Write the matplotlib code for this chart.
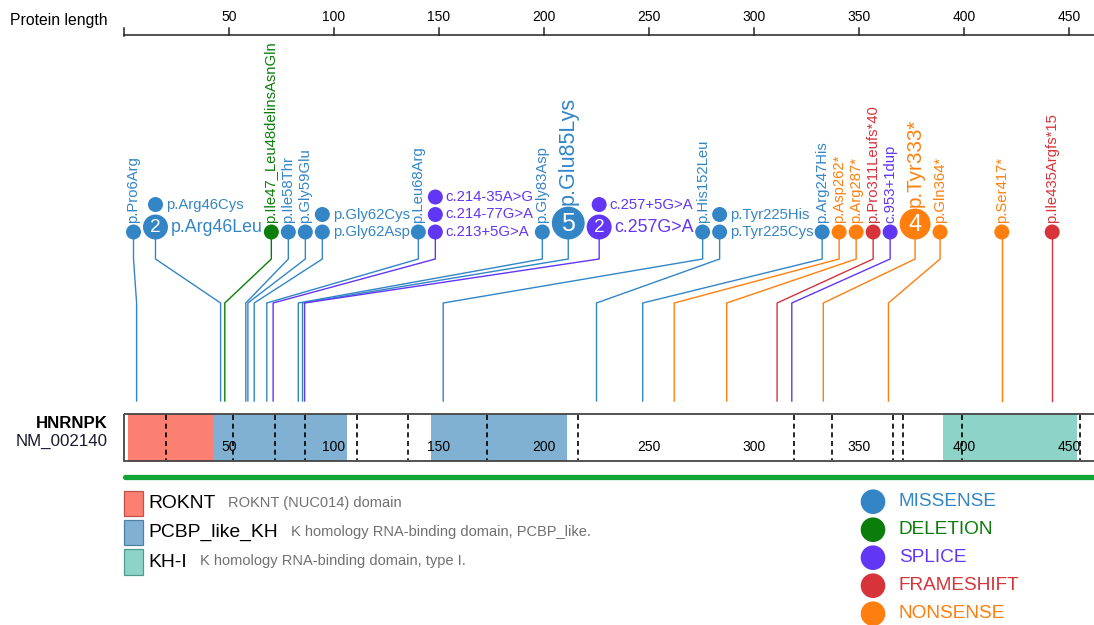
import numpy as np
import matplotlib
matplotlib.use('Agg')
import matplotlib.pyplot as plt
from matplotlib.patches import Rectangle
from matplotlib.font_manager import FontProperties

plt.rcParams['font.family'] = ['Liberation Sans', 'DejaVu Sans']

# ---- data -------------------------------------------------------------
gene = 'HNRNPK'
transcript = 'NM_002140'
protein_len = 463

# mutations, listed bottom-to-top inside a shared column
mut_labels = ['p.Pro6Arg', 'p.Arg46Leu', 'p.Arg46Cys', 'p.Ile47_Leu48delinsAsnGln',
              'p.Ile58Thr', 'p.Gly59Glu', 'p.Gly62Asp', 'p.Gly62Cys', 'p.Leu68Arg',
              'c.213+5G>A', 'c.214-77G>A', 'c.214-35A>G', 'p.Gly83Asp', 'p.Glu85Lys',
              'c.257G>A', 'c.257+5G>A', 'p.His152Leu', 'p.Tyr225Cys', 'p.Tyr225His',
              'p.Arg247His', 'p.Asp262*', 'p.Arg287*', 'p.Pro311Leufs*40', 'c.953+1dup',
              'p.Tyr333*', 'p.Gln364*', 'p.Ser417*', 'p.Ile435Argfs*15']
mut_pos = [6, 46, 46, 48, 58, 59, 62, 62, 68, 71, 71, 71, 83, 85, 86, 86, 152, 225, 225,
           247, 262, 287, 311, 318, 333, 364, 418, 442]
mut_type = ['MISSENSE', 'MISSENSE', 'MISSENSE', 'DELETION', 'MISSENSE', 'MISSENSE',
            'MISSENSE', 'MISSENSE', 'MISSENSE', 'SPLICE', 'SPLICE', 'SPLICE', 'MISSENSE',
            'MISSENSE', 'SPLICE', 'SPLICE', 'MISSENSE', 'MISSENSE', 'MISSENSE', 'MISSENSE',
            'NONSENSE', 'NONSENSE', 'FRAMESHIFT', 'SPLICE', 'NONSENSE', 'NONSENSE',
            'NONSENSE', 'FRAMESHIFT']
mut_count = [1, 2, 1, 1, 1, 1, 1, 1, 1, 1, 1, 1, 1, 5, 2, 1, 1, 1, 1, 1, 1, 1, 1, 1, 4, 1, 1, 1]

domain_names = ['ROKNT', 'PCBP_like_KH', 'PCBP_like_KH', 'KH-I']
domain_start = [2, 43, 146, 390]
domain_end = [43, 106, 211, 454]
legend_domains = ['ROKNT', 'PCBP_like_KH', 'KH-I']
legend_desc = ['ROKNT (NUC014) domain', 'K homology RNA-binding domain, PCBP_like.',
               'K homology RNA-binding domain, type I.']
exon_bounds = [20, 52, 72, 86, 111, 135, 173, 216, 319, 337, 366, 371, 399, 455]
ruler_ticks = [50, 100, 150, 200, 250, 300, 350, 400, 450]

type_order = ['MISSENSE', 'DELETION', 'SPLICE', 'FRAMESHIFT', 'NONSENSE']
type_colors = {'MISSENSE': '#3385c6', 'DELETION': '#0a7d0a', 'SPLICE': '#6236f5',
               'FRAMESHIFT': '#d6333a', 'NONSENSE': '#ff7f0e'}
domain_colors = {'ROKNT': '#fb8072', 'PCBP_like_KH': '#80b1d3', 'KH-I': '#8dd3c7'}
domain_edges = {'ROKNT': '#c0504a', 'PCBP_like_KH': '#4f7fa3', 'KH-I': '#4f9a8c'}

# ---- canvas (x in residues, y in pixels from top) ---------------------
W, H = 1094, 625
X0 = 124          # pixel where residue 0 sits
PPA = 2.1         # pixels per residue
fig = plt.figure(figsize=(W / 100, H / 100), dpi=100)
ax = fig.add_axes([0, 0, 1, 1])
ax.set_xlim(-X0 / PPA, (W - X0) / PPA)
ax.set_ylim(H, 0)
ax.axis('off')
renderer = fig.canvas.get_renderer()


def px2x(p):
    return (p - X0) / PPA


def fsize(n):
    return 10.7 + 3 * np.log(n)


def radius(n):
    return 7.5 if n == 1 else 9.5 + 4.3 * np.log(n)


def text_w(s, size, weight='normal'):
    fp = FontProperties(family='Liberation Sans', size=size, weight=weight)
    return renderer.get_text_width_height_descent(s, fp, ismath=False)[0]


# ---- group mutations into columns ------------------------------------
groups = []
for lab, pos, typ, n in zip(mut_labels, mut_pos, mut_type, mut_count):
    if groups and groups[-1]['pos'] == pos and groups[-1]['type'] == typ:
        groups[-1]['items'].append((lab, n))
    else:
        groups.append({'pos': pos, 'type': typ, 'items': [(lab, n)]})

GAP = 2
for g in groups:
    rs = [radius(n) for _, n in g['items']]
    g['a'] = max(rs)
    if len(g['items']) > 1:
        g['b'] = max(r + 2 + text_w(lab, fsize(n)) for r, (lab, n) in zip(rs, g['items']))
    else:
        g['b'] = rs[0]
    g['anchor'] = X0 + g['pos'] * PPA

# 1D overlap removal: merge overlapping clusters, centre on mean, clamp
L, R = X0 + 2, W - 2


def place(c):
    s = np.mean([groups[i]['anchor'] - groups[i]['a'] - o for i, o in zip(c['items'], c['offs'])])
    return min(max(s, L), R - c['width'])


clusters = []
for gi, g in enumerate(groups):
    c = {'items': [gi], 'offs': [0.0], 'width': g['a'] + g['b']}
    c['start'] = place(c)
    clusters.append(c)
    while len(clusters) > 1 and clusters[-2]['start'] + clusters[-2]['width'] + GAP > clusters[-1]['start']:
        c2 = clusters.pop()
        c1 = clusters.pop()
        shift = c1['width'] + GAP
        c = {'items': c1['items'] + c2['items'],
             'offs': c1['offs'] + [o + shift for o in c2['offs']],
             'width': shift + c2['width']}
        c['start'] = place(c)
        clusters.append(c)
for c in clusters:
    for i, o in zip(c['items'], c['offs']):
        groups[i]['cx'] = c['start'] + o + groups[i]['a']

# ---- lollipops -------------------------------------------------------
for g in groups:
    col = type_colors[g['type']]
    cx = px2x(g['cx'])
    ax.plot([cx, cx, g['pos'], g['pos']], [235, 259, 303, 401], color=col, lw=1.0, zorder=1)
    y = None
    prev_r = None
    stacked = len(g['items']) > 1
    for lab, n in g['items']:
        r = radius(n)
        y = 239.5 - r if y is None else y - prev_r - 2.5 - r
        prev_r = r
        ax.scatter([cx], [y], s=(2 * r * 0.72) ** 2, color=col, edgecolors='none', zorder=3)
        if n > 1:
            ax.text(cx, y + 0.5, str(n), color='white', fontsize=r * 1.1, ha='center',
                    va='center', zorder=4)
        if stacked:
            ax.text(px2x(g['cx'] + r + 3), y, lab, color=col, fontsize=fsize(n),
                    ha='left', va='center')
        else:
            ax.text(cx, y - r - 1.5, lab, color=col, fontsize=fsize(n), rotation=90,
                    ha='center', va='bottom')

# ---- ruler -----------------------------------------------------------
ax.text(px2x(10), 20, 'Protein length', fontsize=11.3, ha='left', va='center')
ax.plot([0, protein_len + 20], [35, 35], color='#222222', lw=1.1, clip_on=True)
ax.plot([0, 0], [28, 35.5], color='#222222', lw=1.1)
for t in ruler_ticks:
    ax.plot([t, t], [28, 35], color='#222222', lw=1.1)
    ax.text(t, 17, str(t), fontsize=10, ha='center', va='center')

# ---- protein bar -----------------------------------------------------
ax.text(px2x(108), 424, gene, fontsize=12.1, weight='bold', ha='right', va='center')
ax.text(px2x(108), 441, transcript, fontsize=12.2, color='#1a1a2e', ha='right', va='center')
for name, s, e in zip(domain_names, domain_start, domain_end):
    ax.add_patch(Rectangle((s, 414), e - s, 46.5, facecolor=domain_colors[name],
                           edgecolor='none', zorder=1))
ax.add_patch(Rectangle((0, 413.5), protein_len, 47.5, facecolor='none',
                       edgecolor='#444444', lw=1.3, zorder=2))
for b in exon_bounds:
    ax.plot([b, b], [414.5, 460], color='black', lw=1.2, ls=(0, (3, 2.2)), zorder=3)
for t in ruler_ticks:
    ax.text(t, 447, str(t), fontsize=10, ha='center', va='center', zorder=4)
ax.plot([0.5, protein_len], [477, 477], color='#13a533', lw=3.8, solid_capstyle='round')

# ---- domain legend ---------------------------------------------------
for k, (name, desc) in enumerate(zip(legend_domains, legend_desc)):
    yt = 490.5 + k * 29.3
    ax.add_patch(Rectangle((px2x(124), yt), 18.5 / PPA, 25.5, facecolor=domain_colors[name],
                           edgecolor=domain_edges[name], lw=0.9))
    ax.text(px2x(148), yt + 13, name, fontsize=13.9, ha='left', va='center')
    ax.text(px2x(148 + text_w(name, 13.9) + 13), yt + 12, desc, fontsize=10.5,
            color='#707070', ha='left', va='center')

# ---- mutation type legend -------------------------------------------
for k, typ in enumerate(type_order):
    yc = 501.7 + k * 28
    ax.scatter([px2x(873)], [yc], s=(2 * 12.3 * 0.72) ** 2, color=type_colors[typ],
               edgecolors='none', clip_on=False)
    ax.text(px2x(899), yc, typ, fontsize=13.7, color=type_colors[typ], ha='left', va='center')

fig.savefig('out.png', dpi=100)
